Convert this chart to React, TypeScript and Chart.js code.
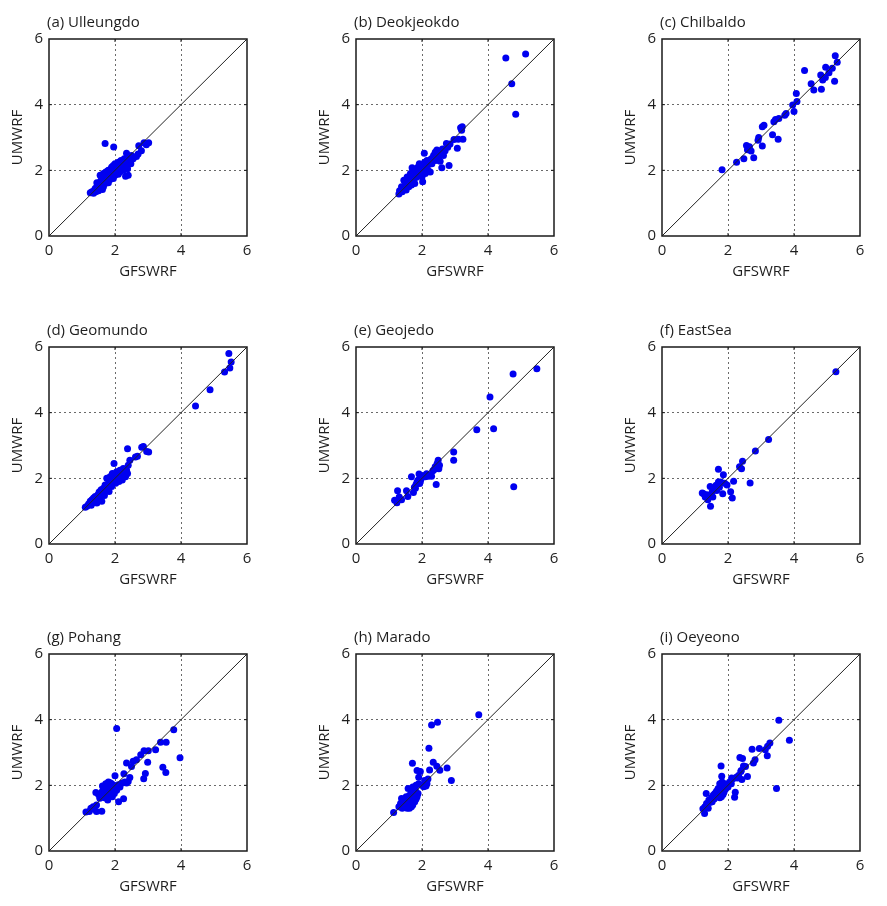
import React, { useEffect, useRef } from "react";
import { Chart, registerables } from "chart.js";

Chart.register(...registerables);

// ---------- data (GFSWRF, UMWRF) ----------
const panelTitles = [
  "(a) Ulleungdo", "(b) Deokjeokdo", "(c) Chilbaldo",
  "(d) Geomundo", "(e) Geojedo", "(f) EastSea",
  "(g) Pohang", "(h) Marado", "(i) Oeyeono",
];
const xAxisTitle = "GFSWRF";
const yAxisTitle = "UMWRF";
const tickValues = [0, 2, 4, 6];
const axisMin = 0;
const axisMax = 6;
const identityLine = [[0, 0], [6, 6]];

const ulleungdo = [
  [1.25,1.32],[1.30,1.35],[1.35,1.30],[1.38,1.40],[1.40,1.45],[1.42,1.35],[1.45,1.50],[1.48,1.42],[1.50,1.55],[1.50,1.38],
  [1.52,1.62],[1.55,1.48],[1.55,1.85],[1.58,1.70],[1.60,1.55],[1.60,1.78],[1.62,1.65],[1.65,1.50],[1.65,1.90],[1.68,1.72],
  [1.70,1.60],[1.70,1.82],[1.72,1.95],[1.75,1.68],[1.75,1.88],[1.78,1.75],[1.80,2.00],[1.80,1.62],[1.82,1.85],[1.85,1.95],
  [1.85,1.72],[1.88,2.05],[1.90,1.80],[1.90,2.10],[1.92,1.92],[1.95,2.15],[1.95,1.75],[1.98,2.00],[2.00,2.20],[2.00,1.85],
  [2.02,2.08],[2.05,1.95],[2.05,2.18],[2.08,2.10],[2.10,1.88],[2.10,2.25],[2.12,2.02],[2.15,2.15],[2.15,1.95],[2.18,2.30],
  [2.20,2.08],[2.22,2.20],[2.25,2.00],[2.28,2.35],[2.30,2.15],[2.32,1.82],[2.35,2.25],[2.35,2.52],[2.38,2.05],[2.40,1.85],
  [2.42,2.30],[2.45,2.40],[2.48,2.20],[2.50,2.45],[2.55,2.35],[2.65,2.42],[2.70,2.50],[2.72,2.75],[2.80,2.60],[2.88,2.84],
  [2.95,2.78],[3.02,2.84],[1.70,2.82],[1.96,2.71],[1.45,1.62],[1.62,1.42],[1.78,1.98],[2.25,2.28],
];

const deokjeokdo = [
  [1.30,1.28],[1.32,1.38],[1.38,1.50],[1.40,1.35],[1.45,1.70],[1.48,1.45],[1.50,1.58],[1.52,1.40],[1.55,1.80],[1.58,1.62],
  [1.60,1.50],[1.62,1.75],[1.65,1.90],[1.68,1.55],[1.70,2.08],[1.72,1.70],[1.75,1.85],[1.78,1.60],[1.80,2.00],[1.82,1.78],
  [1.85,1.92],[1.88,2.10],[1.90,1.85],[1.92,2.20],[1.95,1.95],[1.98,2.05],[2.00,1.80],[2.02,1.65],[2.02,2.15],[2.05,2.00],
  [2.07,2.52],[2.08,2.25],[2.10,1.90],[2.12,2.10],[2.15,2.30],[2.18,2.00],[2.20,2.18],[2.25,1.95],[2.28,2.35],[2.30,2.20],
  [2.35,2.45],[2.40,2.55],[2.42,2.30],[2.45,2.62],[2.50,2.40],[2.52,2.58],[2.55,2.28],[2.60,2.50],[2.60,2.08],[2.62,2.65],
  [2.65,2.45],[2.70,2.60],[2.74,2.82],[2.78,2.70],[2.82,2.15],[2.85,2.80],[2.97,2.94],[3.07,2.67],[3.10,2.95],[3.17,3.30],
  [3.20,3.22],[3.22,3.33],[3.24,2.95],[4.54,5.42],[5.14,5.54],[4.72,4.64],[4.84,3.71],
];

const chilbaldo = [
  [1.82,2.02],[2.26,2.25],[2.48,2.35],[2.56,2.76],[2.59,2.63],[2.65,2.72],[2.70,2.59],[2.78,2.38],[2.91,2.92],[2.93,3.00],
  [3.04,2.74],[3.04,3.33],[3.09,3.37],[3.35,3.08],[3.39,3.48],[3.44,3.55],[3.52,2.95],[3.54,3.58],[3.72,3.68],[3.76,3.73],
  [3.96,3.99],[4.00,3.79],[4.07,4.34],[4.09,4.10],[4.32,5.04],[4.52,4.64],[4.60,4.45],[4.81,4.90],[4.83,4.47],[4.87,4.75],
  [4.96,5.14],[4.95,4.83],[5.06,4.97],[5.16,5.11],[5.23,4.71],[5.25,5.49],[5.31,5.29],
];

const geomundo = [
  [1.10,1.12],[1.15,1.15],[1.20,1.22],[1.25,1.30],[1.28,1.18],[1.30,1.35],[1.32,1.25],[1.35,1.40],[1.38,1.30],[1.40,1.45],
  [1.42,1.35],[1.45,1.25],[1.48,1.50],[1.50,1.38],[1.52,1.58],[1.55,1.45],[1.58,1.65],[1.60,1.30],[1.62,1.55],[1.65,1.70],
  [1.68,1.48],[1.70,1.80],[1.72,1.62],[1.75,2.00],[1.78,1.72],[1.80,1.85],[1.82,1.60],[1.85,2.05],[1.88,1.90],[1.90,1.75],
  [1.92,2.15],[1.95,1.95],[1.97,2.45],[2.00,2.05],[2.02,1.85],[2.05,2.20],[2.08,2.00],[2.10,2.10],[2.12,1.90],[2.15,2.25],
  [2.18,2.05],[2.20,2.15],[2.22,1.95],[2.25,2.30],[2.28,2.10],[2.30,2.20],[2.32,2.05],[2.35,2.25],[2.38,2.15],[2.38,2.90],
  [2.40,2.40],[2.45,2.55],[2.62,2.65],[2.68,2.67],[2.81,2.95],[2.86,2.97],[2.96,2.82],[3.02,2.80],[4.44,4.20],[4.88,4.70],
  [5.32,5.24],[5.45,5.80],[5.48,5.36],[5.52,5.54],
];

const geojedo = [
  [1.17,1.33],[1.24,1.26],[1.26,1.62],[1.31,1.43],[1.38,1.35],[1.53,1.62],[1.57,1.45],[1.68,2.05],[1.74,1.57],[1.77,1.73],
  [1.82,1.81],[1.85,1.89],[1.88,1.94],[1.91,2.13],[1.93,1.84],[1.97,1.99],[2.02,2.04],[2.07,2.09],[2.14,2.14],[2.19,2.06],
  [2.29,2.06],[2.33,2.23],[2.36,2.26],[2.40,2.35],[2.43,1.81],[2.46,2.45],[2.49,2.55],[2.51,2.29],[2.53,2.40],[2.96,2.80],
  [2.96,2.55],[3.66,3.48],[4.06,4.48],[4.17,3.51],[4.76,5.18],[4.78,1.74],[5.48,5.34],[1.80,1.70],[1.90,1.95],[2.25,2.10],
  [2.45,2.30],[1.95,1.90],[2.10,2.05],
];

const eastSea = [
  [5.27,5.25],[3.23,3.18],[2.83,2.83],[2.44,2.52],[2.35,2.35],[2.41,2.29],[2.67,1.86],[2.17,1.91],[2.08,1.59],[2.13,1.40],
  [1.84,1.53],[1.86,2.11],[1.71,2.28],[1.97,1.80],[1.78,1.89],[1.71,1.89],[1.64,1.79],[1.58,1.69],[1.52,1.58],[1.46,1.75],
  [1.54,1.43],[1.47,1.15],[1.39,1.35],[1.36,1.50],[1.26,1.53],[1.22,1.55],[1.31,1.43],[1.41,1.43],[1.66,1.63],[1.74,1.73],
  [1.90,1.85],
];

const pohang = [
  [2.05,3.73],[3.78,3.69],[3.97,2.84],[3.55,3.31],[3.38,3.31],[3.23,3.08],[3.45,2.55],[3.54,2.39],[3.01,3.05],[2.99,2.70],
  [2.92,2.36],[2.87,2.20],[2.88,3.05],[2.78,2.93],[2.65,2.78],[2.55,2.73],[2.50,2.57],[2.35,2.68],[2.45,2.24],[2.35,2.07],
  [2.22,2.07],[2.26,1.59],[2.11,1.50],[2.00,2.29],[2.27,2.35],[1.12,1.19],[1.22,1.20],[1.44,1.20],[1.60,1.21],[1.42,1.78],
  [1.34,1.35],[1.44,1.40],[1.54,1.61],[1.37,1.27],[1.27,1.30],[1.65,1.95],[1.70,1.75],[1.72,2.05],[1.75,1.85],[1.78,1.55],
  [1.80,2.10],[1.82,1.70],[1.85,1.95],[1.88,1.80],[1.90,2.05],[1.92,1.65],[1.95,1.90],[1.98,1.75],[2.02,1.98],[2.05,1.85],
  [1.60,1.80],[1.68,1.62],[1.75,1.95],[1.85,2.08],[1.95,2.00],[2.10,2.02],[2.15,1.95],[2.30,2.10],[2.40,2.12],[1.55,1.65],
  [1.50,1.72],[1.62,1.98],
];

const marado = [
  [3.72,4.15],[2.47,3.92],[2.29,3.84],[2.21,3.13],[1.71,2.67],[2.34,2.70],[2.45,2.58],[2.54,2.46],[2.76,2.53],[2.89,2.15],
  [2.23,2.47],[1.95,2.42],[1.85,2.45],[1.90,2.25],[2.18,2.19],[2.11,2.07],[2.05,1.96],[1.14,1.17],[1.30,1.35],[1.35,1.45],
  [1.38,1.60],[1.40,1.30],[1.42,1.50],[1.45,1.40],[1.48,1.55],[1.50,1.35],[1.52,1.65],[1.55,1.45],[1.58,1.90],[1.60,1.55],
  [1.62,1.30],[1.62,1.70],[1.65,1.45],[1.68,1.80],[1.70,1.60],[1.72,1.40],[1.72,1.95],[1.75,1.70],[1.78,1.50],[1.80,1.85],
  [1.82,2.00],[1.85,1.65],[1.88,1.75],[1.90,2.05],[1.60,1.40],[1.55,1.30],[1.68,1.35],[1.75,1.85],[1.82,1.58],[2.00,2.00],
  [2.08,2.15],[2.12,1.98],[2.15,2.05],
];

const oeyeono = [
  [3.54,3.98],[3.86,3.37],[3.47,1.90],[3.27,3.29],[3.20,3.19],[3.19,2.90],[3.13,3.08],[2.95,3.12],[2.73,3.10],[2.82,2.78],
  [2.77,2.68],[2.59,2.27],[2.53,2.57],[2.47,2.59],[2.44,2.82],[2.36,2.85],[2.39,2.42],[2.42,2.18],[2.28,2.22],[2.22,1.79],
  [2.20,1.64],[2.11,2.22],[1.79,2.59],[1.81,2.28],[1.34,1.75],[1.29,1.14],[1.24,1.29],[1.30,1.35],[1.35,1.45],[1.40,1.30],
  [1.42,1.55],[1.45,1.48],[1.50,1.62],[1.52,1.50],[1.55,1.70],[1.58,1.58],[1.60,1.75],[1.62,1.65],[1.65,1.82],[1.68,1.68],
  [1.70,1.90],[1.72,1.72],[1.75,2.05],[1.78,1.85],[1.80,1.65],[1.82,2.10],[1.85,1.95],[1.88,1.80],[1.90,2.05],[1.92,1.88],
  [1.95,2.00],[2.00,1.95],[2.05,2.10],[2.10,2.05],[2.15,2.20],[2.25,2.25],[2.32,2.30],[2.40,2.45],[1.75,1.62],[1.85,1.72],
];

const stations = [ulleungdo, deokjeokdo, chilbaldo, geomundo, geojedo, eastSea, pohang, marado, oeyeono];

// ---------- layout ----------
const PLOT_LEFTS = [49, 356, 662];
const PLOT_TOPS = [39, 347, 654];
const PLOT_W = 198;
const PLOT_H = 197;
const Y_AXIS_W = 49;
const CANVAS_W = 272;
const CANVAS_H = 300;
const FONT = '"Open Sans", "Noto Sans", sans-serif';
const TEXT_COLOR = "#1e1e1e";
const DOT_COLOR = "rgb(0,0,240)";

const framePlugin = {
  id: "frame",
  afterDraw(chart: any, _args: any, opts: any) {
    const { ctx, chartArea } = chart;
    const { left, top, right, bottom } = chartArea;
    ctx.save();
    ctx.strokeStyle = "#1a1a1a";
    ctx.lineWidth = 1.5;
    ctx.strokeRect(left, top, right - left, bottom - top);
    // inward tick marks
    ctx.lineWidth = 1;
    const xs = chart.scales.x;
    const ys = chart.scales.y;
    const tl = 3;
    for (const v of tickValues) {
      if (v === axisMin || v === axisMax) continue;
      const px = xs.getPixelForValue(v);
      const py = ys.getPixelForValue(v);
      ctx.beginPath();
      ctx.moveTo(px, bottom); ctx.lineTo(px, bottom - tl);
      ctx.moveTo(px, top); ctx.lineTo(px, top + tl);
      ctx.moveTo(left, py); ctx.lineTo(left + tl, py);
      ctx.moveTo(right, py); ctx.lineTo(right - tl, py);
      ctx.stroke();
    }
    // panel title
    ctx.font = `15px ${FONT}`;
    ctx.fillStyle = TEXT_COLOR;
    ctx.textAlign = "left";
    ctx.textBaseline = "middle";
    ctx.fillText(opts.text, left - 2, top - 16);
    ctx.restore();
  },
};

function Panel({ index }: { index: number }) {
  const ref = useRef<HTMLCanvasElement | null>(null);
  useEffect(() => {
    const pts = stations[index];
    const gridColor = (c: any) =>
      c.tick && (c.tick.value === axisMin || c.tick.value === axisMax) ? "rgba(0,0,0,0)" : "#6a6a6a";
    const chart = new Chart(ref.current as HTMLCanvasElement, {
      type: "scatter",
      data: {
        datasets: [
          {
            type: "line",
            data: identityLine.map(([x, y]) => ({ x, y })),
            borderColor: "#222",
            borderWidth: 1,
            pointRadius: 0,
            order: 0,
          } as any,
          {
            type: "scatter",
            data: pts.map(([x, y]) => ({ x, y })),
            backgroundColor: DOT_COLOR,
            borderWidth: 0,
            pointRadius: 3.5,
            order: 1,
          },
        ],
      },
      options: {
        animation: false,
        responsive: false,
        maintainAspectRatio: false,
        events: [],
        layout: { padding: { top: 39, left: 0, right: CANVAS_W - Y_AXIS_W - PLOT_W, bottom: 0 } },
        plugins: {
          legend: { display: false },
          tooltip: { enabled: false },
          title: { display: false },
          frame: { text: panelTitles[index] },
        } as any,
        scales: {
          x: {
            type: "linear",
            min: axisMin,
            max: axisMax,
            afterFit: (s: any) => { s.height = CANVAS_H - 39 - PLOT_H; },
            afterBuildTicks: (s: any) => { s.ticks = tickValues.map((v) => ({ value: v })); },
            ticks: { color: TEXT_COLOR, font: { family: FONT, size: 15 }, padding: 6, maxRotation: 0, autoSkip: false },
            grid: { color: gridColor, lineWidth: 1, drawTicks: false },
            border: { display: false, dash: [2, 3] },
            title: { display: true, text: xAxisTitle, color: TEXT_COLOR, font: { family: FONT, size: 15 }, padding: { top: 0, bottom: 19 } },
          },
          y: {
            type: "linear",
            min: axisMin,
            max: axisMax,
            afterFit: (s: any) => { s.width = Y_AXIS_W; },
            afterBuildTicks: (s: any) => { s.ticks = tickValues.map((v) => ({ value: v })); },
            ticks: { color: TEXT_COLOR, font: { family: FONT, size: 15 }, padding: 6, autoSkip: false },
            grid: { color: gridColor, lineWidth: 1, drawTicks: false },
            border: { display: false, dash: [2, 3] },
            title: { display: true, text: yAxisTitle, color: TEXT_COLOR, font: { family: FONT, size: 15 }, padding: { top: 9, bottom: 0 } },
          },
        },
      } as any,
      plugins: [framePlugin],
    });
    return () => chart.destroy();
  }, [index]);

  const col = index % 3;
  const row = Math.floor(index / 3);
  return (
    <canvas
      ref={ref}
      width={CANVAS_W}
      height={CANVAS_H}
      style={{
        position: "absolute",
        left: PLOT_LEFTS[col] - Y_AXIS_W,
        top: PLOT_TOPS[row] - 39,
        width: CANVAS_W,
        height: CANVAS_H,
      }}
    />
  );
}

export default function App() {
  return (
    <div
      style={{
        position: "absolute",
        left: 0,
        top: 0,
        width: 887,
        height: 906,
        background: "#fff",
        overflow: "hidden",
      }}
    >
      {panelTitles.map((_, i) => (
        <Panel key={i} index={i} />
      ))}
    </div>
  );
}
